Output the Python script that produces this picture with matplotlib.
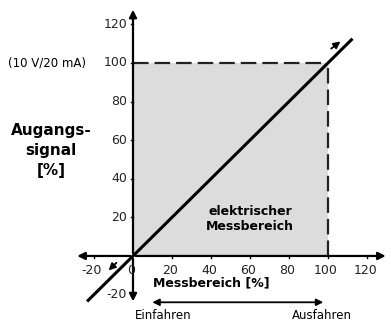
import matplotlib
matplotlib.use("Agg")
import matplotlib.pyplot as plt
from matplotlib.patches import Rectangle

# tick values on both axes
x_ticks = [-20, 0, 20, 40, 60, 80, 100, 120]
y_ticks = [-20, 20, 40, 60, 80, 100, 120]
# characteristic line (signal = position), drawn past both ends
line_x = [-23, 112]
line_y = [-23, 112]
# electrical measuring range
range_lo, range_hi = 0, 100

fig = plt.figure(figsize=(3.91, 3.27), dpi=100)
ax = fig.add_axes([0, 0, 1, 1])
ax.set_xlim(-68.2, 132.3)
ax.set_ylim(-36.8, 132.6)
ax.axis("off")

# shaded measuring range
ax.add_patch(Rectangle((range_lo, range_lo), range_hi - range_lo, range_hi - range_lo,
                       facecolor="#dcdcdc", edgecolor="none", zorder=0))
ax.plot([range_lo, range_hi], [range_hi, range_hi], color="#222222", lw=1.6,
        dashes=(7, 2.7), zorder=2)
ax.plot([range_hi, range_hi], [range_lo, range_hi], color="#222222", lw=1.6,
        dashes=(7, 2.7), zorder=2)

# axes with arrows
arr = dict(arrowstyle="-|>", color="black", lw=1.6, mutation_scale=11)
ax.annotate("", xy=(131, 0), xytext=(0, 0), arrowprops=arr)
ax.annotate("", xy=(-30, 0), xytext=(0, 0), arrowprops=arr)
ax.annotate("", xy=(0, 129), xytext=(0, 0), arrowprops=arr)
ax.annotate("", xy=(0, -25), xytext=(0, 0), arrowprops=arr)

# characteristic
ax.plot(line_x, line_y, color="black", lw=2.2, zorder=3)
small = dict(arrowstyle="-|>", color="black", lw=1.3, mutation_scale=10)
ax.annotate("", xy=(107.5, 112), xytext=(100.5, 106.5), arrowprops=small)
ax.annotate("", xy=(-13.5, -8.5), xytext=(-7.5, -2.5), arrowprops=small)

# ticks
for v in x_ticks:
    if v != 0:
        ax.plot([v, v], [0, -1.2], color="black", lw=1)
    ax.text(v - 1, -4, str(v), ha="center", va="top", fontsize=9, color="#222222")
for v in y_ticks:
    ax.plot([0, -1.2], [v, v], color="black", lw=1)
    ax.text(-3, v, str(v), ha="right", va="center", fontsize=9, color="#222222")

# labels
ax.text(-44, 100, "(10 V/20 mA)", ha="center", va="center", fontsize=8.5)
ax.text(-42, 54.5, "Augangs-\nsignal\n[%]", ha="center", va="center",
        fontsize=11, fontweight="bold", linespacing=1.4)
ax.text(40, -14, "Messbereich [%]", ha="center", va="center",
        fontsize=9, fontweight="bold")
ax.text(60, 19, "elektrischer\nMessbereich", ha="center", va="center",
        fontsize=9, fontweight="bold", linespacing=1.2)

# travel direction
ax.annotate("", xy=(8.5, -24), xytext=(99, -24),
            arrowprops=dict(arrowstyle="<|-|>", color="black", lw=1.3, mutation_scale=10))
ax.text(15.5, -31, "Einfahren", ha="center", va="center", fontsize=8.5)
ax.text(97, -31, "Ausfahren", ha="center", va="center", fontsize=8.5)

fig.savefig("out.png", dpi=100)
